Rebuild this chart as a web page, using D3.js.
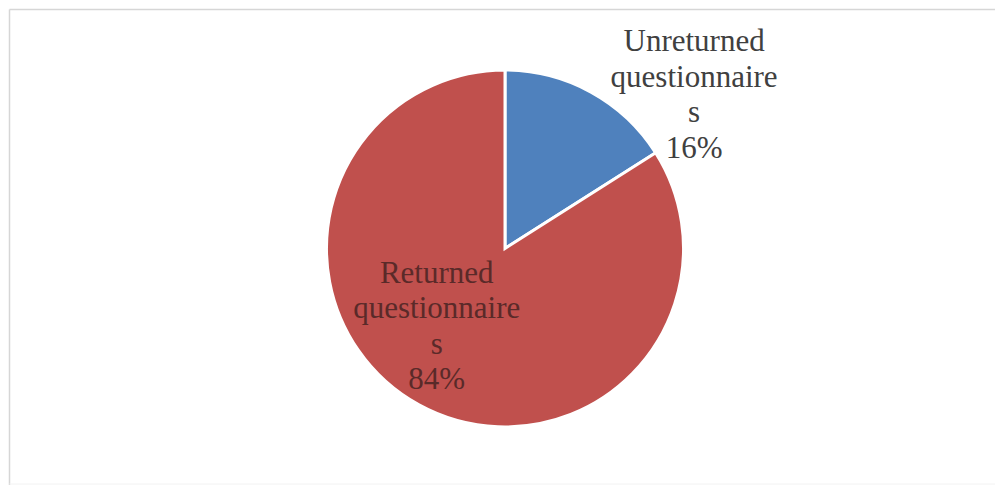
<!DOCTYPE html>
<html>
<head>
<meta charset="utf-8">
<script src="https://cdn.jsdelivr.net/npm/d3@7"></script>
<style>
  html, body { margin: 0; padding: 0; background: #ffffff; }
  svg { display: block; }
</style>
</head>
<body>
<svg id="chart" width="995" height="485"></svg>
<script>
// Questionnaire return data
const categories = ["Unreturned questionnaires", "Returned questionnaires"];
const shares = [16, 84];
const labelLines = [
  ["Unreturned", "questionnaire", "s"],
  ["Returned", "questionnaire", "s"]
];
const sliceColors = ["#4f81bd", "#c0504d"];
const labelColors = ["#404040", "#5a2a29"];

const svg = d3.select("#chart");
const W = 995, H = 485;

// Chart-area frame (top and left edges visible)
svg.append("line").attr("x1", 9.5).attr("y1", 9.5).attr("x2", W).attr("y2", 9.5)
  .attr("stroke", "#d6d6d6").attr("stroke-width", 1.5);
svg.append("line").attr("x1", 9.5).attr("y1", 9.5).attr("x2", 9.5).attr("y2", H)
  .attr("stroke", "#d6d6d6").attr("stroke-width", 1.5);
svg.append("line").attr("x1", 9.5).attr("y1", H - 1).attr("x2", W).attr("y2", H - 1)
  .attr("stroke", "#f2f2f2").attr("stroke-width", 1);

const cx = 505, cy = 248.5, R = 178.5;

const pie = d3.pie().sort(null).value(d => d);
const arcs = pie(shares);
const arc = d3.arc().innerRadius(0).outerRadius(R);

const g = svg.append("g").attr("transform", `translate(${cx},${cy})`);

g.selectAll("path.slice")
  .data(arcs)
  .join("path")
  .attr("class", "slice")
  .attr("d", arc)
  .attr("fill", (d, i) => sliceColors[i])
  .attr("stroke", "#ffffff")
  .attr("stroke-width", 3)
  .attr("stroke-linejoin", "miter");

// Data labels: polar anchor (angle in degrees clockwise from top, distance) per slice
const labelAnchor = [
  { angle: 50.8, dist: 244 },
  { angle: 221.5, dist: 103 }
];
const fontSize = 31, lineH = 35.5;

arcs.forEach((a, i) => {
  const ang = labelAnchor[i].angle * Math.PI / 180;
  const lx = labelAnchor[i].dist * Math.sin(ang);
  const ly = -labelAnchor[i].dist * Math.cos(ang);
  const lines = labelLines[i].concat([d3.format(".0%")((a.value) / d3.sum(shares))]);
  const n = lines.length;
  const text = g.append("text")
    .attr("text-anchor", "middle")
    .attr("font-family", "'Liberation Serif', 'Times New Roman', serif")
    .attr("font-size", fontSize)
    .attr("fill", labelColors[i]);
  lines.forEach((t, k) => {
    text.append("tspan")
      .attr("x", lx)
      .attr("y", ly + (k - (n - 1) / 2) * lineH + fontSize * 0.33)
      .text(t);
  });
});
</script>
</body>
</html>
